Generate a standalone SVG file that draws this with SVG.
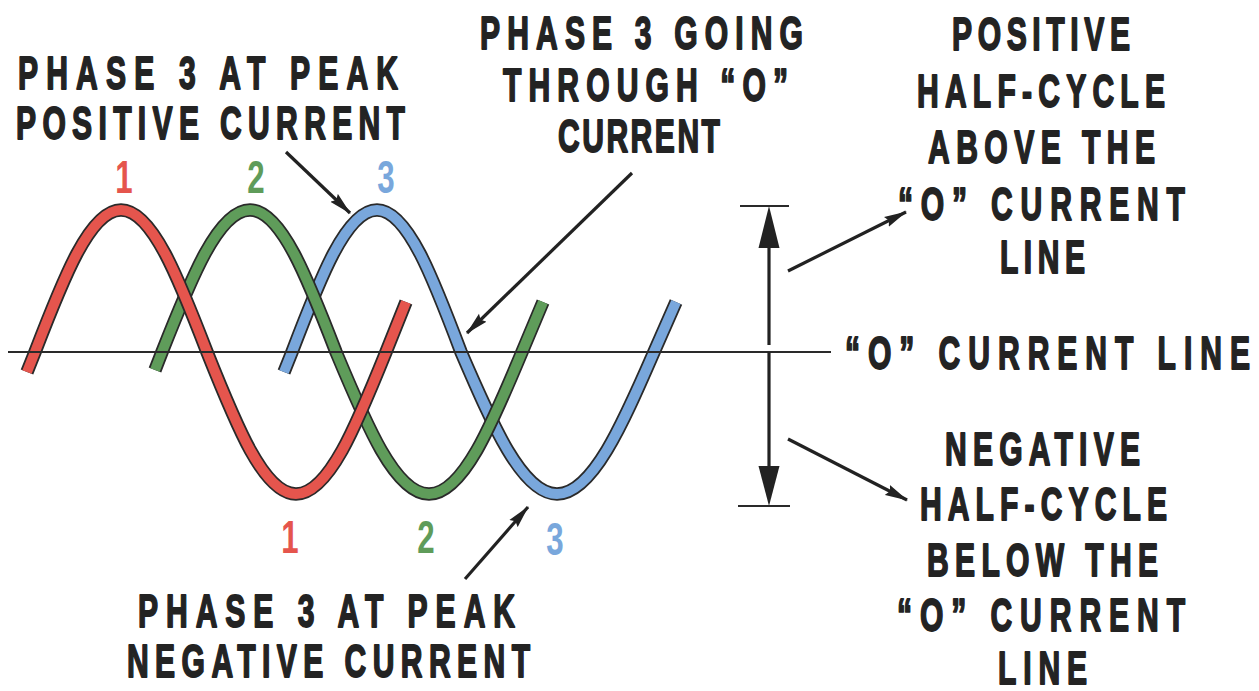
<svg xmlns="http://www.w3.org/2000/svg" width="1259" height="691" viewBox="0 0 1259 691">
<style>
  .lbl { font-family: "Liberation Sans", Arial, sans-serif; font-weight: bold; font-size: 47px; fill: #232323; stroke: #232323; stroke-width: 1.8px; stroke-linejoin: round; }
  .num { font-family: "Liberation Sans", Arial, sans-serif; font-weight: bold; font-size: 46px; text-anchor: middle; }
  .outline { fill: none; stroke: #2a2a2a; stroke-width: 13.5; stroke-linecap: butt; stroke-linejoin: round; }
  .red { fill: none; stroke: #e5554d; stroke-width: 10; stroke-linecap: butt; }
  .green { fill: none; stroke: #5f9c5a; stroke-width: 10; stroke-linecap: butt; }
  .blue { fill: none; stroke: #79a7dc; stroke-width: 10; stroke-linecap: butt; }
  .ptr { fill: none; stroke: #222; stroke-width: 3.2; marker-end: url(#ah); }
  .thin { fill: none; stroke: #2a2a2a; stroke-width: 2; }
</style>
<defs>
  <marker id="ah" markerUnits="userSpaceOnUse" markerWidth="24" markerHeight="12" refX="22" refY="6" orient="auto">
    <path d="M0,0.5 L23,6 L0,11.5 L3,6 z" fill="#222"/>
  </marker>
  <path id="wRed" d="M27 372 L35 352 C63 279.3 89.9 210 121 210 C152.1 210 179 279.3 207 352 C236 424.7 263.8 494 296 494 C328.6 494 356.7 424.7 386 352 L406 302"/>
  <path id="wGreen" d="M155 370 L162 352 C190.7 279.3 218.2 210 250 210 C281.1 210 308 279.3 336 352 C366.3 424.7 395.3 494 429 494 C462.7 494 491.7 424.7 522 352 L543 302"/>
  <path id="wBlue" d="M284 372 L292 352 C319.7 279.3 346.2 210 377 210 C407.4 210 433.6 279.3 461 352 C492.3 424.7 522.3 494 557 494 C592.1 494 622.4 424.7 654 352 L676 302"/>
</defs>
<rect width="1259" height="691" fill="#ffffff"/>

<g id="wave-3">
  <use href="#wBlue" class="outline"/>
  <use href="#wBlue" class="blue"/>
</g>
<g id="wave-2">
  <use href="#wGreen" class="outline"/>
  <use href="#wGreen" class="green"/>
</g>
<g id="wave-1">
  <use href="#wRed" class="outline"/>
  <use href="#wRed" class="red"/>
</g>

<g id="zero-line">
  <line x1="8" y1="352" x2="831" y2="352" class="thin"/>
</g>

<g id="half-cycle-dimension">
  <line x1="740" y1="206" x2="789" y2="206" class="thin"/>
  <line x1="738" y1="506" x2="790" y2="506" class="thin"/>
  <line x1="769" y1="245" x2="769" y2="345" stroke="#222" stroke-width="3.2"/>
  <line x1="769" y1="352" x2="769" y2="469" stroke="#222" stroke-width="3.2"/>
  <path d="M769 206 L779.5 248 L758.5 248 z" fill="#222"/>
  <path d="M769 506 L779.5 466 L758.5 466 z" fill="#222"/>
</g>

<g id="connectors">
  <line x1="286" y1="152" x2="350" y2="213" class="ptr"/>
  <line x1="632" y1="173" x2="467" y2="333" class="ptr"/>
  <line x1="465" y1="579" x2="528" y2="507" class="ptr"/>
  <line x1="788" y1="271" x2="906" y2="212" class="ptr"/>
  <line x1="788" y1="439" x2="907" y2="500" class="ptr"/>
</g>

<g id="phase-numbers">
  <text class="num" fill="#e5554d" transform="translate(124,193) scale(0.68,1)">1</text>
  <text class="num" fill="#5f9c5a" transform="translate(256,193) scale(0.68,1)">2</text>
  <text class="num" fill="#79a7dc" transform="translate(386,193) scale(0.68,1)">3</text>
  <text class="num" fill="#e5554d" transform="translate(290,553) scale(0.68,1)">1</text>
  <text class="num" fill="#5f9c5a" transform="translate(426,553) scale(0.68,1)">2</text>
  <text class="num" fill="#79a7dc" transform="translate(555,555) scale(0.68,1)">3</text>
</g>

<g id="label-peak-positive">
  <text class="lbl" transform="translate(18,89) scale(0.64,1)" textLength="593.75" lengthAdjust="spacing">PHASE 3 AT PEAK</text>
  <text class="lbl" transform="translate(16,139) scale(0.64,1)" textLength="607.8" lengthAdjust="spacing">POSITIVE CURRENT</text>
</g>

<g id="label-zero-crossing">
  <text class="lbl" transform="translate(480,49) scale(0.64,1)" textLength="504.7" lengthAdjust="spacing">PHASE 3 GOING</text>
  <text class="lbl" transform="translate(503,101) scale(0.64,1)" textLength="445.3" lengthAdjust="spacing">THROUGH “O”</text>
  <text class="lbl" transform="translate(558,152) scale(0.64,1)" textLength="253.1" lengthAdjust="spacing">CURRENT</text>
</g>

<g id="label-positive-half">
  <text class="lbl" transform="translate(952,50) scale(0.64,1)" textLength="278.1" lengthAdjust="spacing">POSITIVE</text>
  <text class="lbl" transform="translate(917,107) scale(0.64,1)" textLength="387.5" lengthAdjust="spacing">HALF-CYCLE</text>
  <text class="lbl" transform="translate(928,163) scale(0.64,1)" textLength="354.7" lengthAdjust="spacing">ABOVE THE</text>
  <text class="lbl" transform="translate(898,220) scale(0.64,1)" textLength="448.4" lengthAdjust="spacing">“O” CURRENT</text>
  <text class="lbl" transform="translate(1000,273) scale(0.64,1)" textLength="132.8" lengthAdjust="spacing">LINE</text>
</g>

<g id="label-zero-line">
  <text class="lbl" transform="translate(845,369) scale(0.64,1)" textLength="632.8" lengthAdjust="spacing">“O” CURRENT LINE</text>
</g>

<g id="label-negative-half">
  <text class="lbl" transform="translate(945,465) scale(0.64,1)" textLength="304.7" lengthAdjust="spacing">NEGATIVE</text>
  <text class="lbl" transform="translate(920,520) scale(0.64,1)" textLength="385.9" lengthAdjust="spacing">HALF-CYCLE</text>
  <text class="lbl" transform="translate(927,576) scale(0.64,1)" textLength="360.9" lengthAdjust="spacing">BELOW THE</text>
  <text class="lbl" transform="translate(897,631) scale(0.64,1)" textLength="450" lengthAdjust="spacing">“O” CURRENT</text>
  <text class="lbl" transform="translate(998,684) scale(0.64,1)" textLength="139.1" lengthAdjust="spacing">LINE</text>
</g>

<g id="label-peak-negative">
  <text class="lbl" transform="translate(138,627) scale(0.64,1)" textLength="589.1" lengthAdjust="spacing">PHASE 3 AT PEAK</text>
  <text class="lbl" transform="translate(127,677) scale(0.64,1)" textLength="629.7" lengthAdjust="spacing">NEGATIVE CURRENT</text>
</g>
</svg>
